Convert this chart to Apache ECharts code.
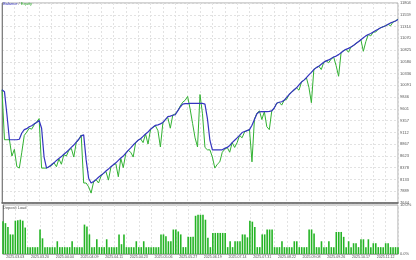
<!DOCTYPE html>
<html><head><meta charset="utf-8">
<script src="https://cdn.jsdelivr.net/npm/echarts@6/dist/echarts.min.js"></script>
<style>html,body{margin:0;padding:0;background:#fff}#c{width:416px;height:260px}</style>
</head><body><div id="c"></div>
<script>
var dates = ['2025.03.03','2025.03.20','2025.04.04','2025.04.09','2025.04.11','2025.04.23','2025.05.06','2025.05.27','2025.06.19','2025.07.14','2025.07.31','2025.08.22','2025.09.08','2025.09.26','2025.10.17','2025.11.12'];
var yLabels = ['7644','7889','8133','8378','8623','8867','9112','9357','9601','9846','10091','10336','10580','10825','11070','11314','11559','11804'];
var balance = [10000,9960,9480,8960,8960,8960,8960,8970,9100,9170,9190,9230,9250,9290,9320,9360,9200,8600,8370,8400,
8440,8480,8530,8570,8610,8660,8700,8750,8800,8850,8910,8970,9040,9060,8540,8160,8060,8090,8130,8180,
8220,8260,8310,8350,8400,8440,8480,8530,8580,8620,8680,8740,8790,8850,8900,8950,8980,9030,9080,9120,
9180,9220,9260,9270,9290,9320,9380,9440,9450,9470,9480,9560,9640,9700,9710,9710,9715,9715,9715,9715,
9715,9715,9700,9400,8950,8750,8750,8750,8750,8750,8780,8800,8840,8900,8950,9000,9050,9110,9130,9150,
9170,9260,9380,9500,9540,9545,9545,9545,9550,9560,9620,9720,9740,9750,9780,9840,9900,9950,10000,10040,
10100,10160,10200,10250,10310,10360,10420,10460,10490,10530,10570,10600,10620,10650,10680,10700,10730,10770,10810,10840,
10860,10890,10920,10960,11000,11040,11080,11120,11150,11170,11200,11230,11260,11290,11310,11330,11360,11390,11410,11430,11460];
var equity = [10000,8960,8960,8960,8620,8760,8400,8370,8700,9050,9120,9200,9180,9270,9330,9400,8370,8370,8370,8400,
8420,8480,8400,8560,8450,8650,8620,8740,8780,8600,8900,8960,9060,8060,8060,7980,7850,8080,8130,8060,
8200,8260,8300,8120,8390,8440,8460,8190,8570,8380,8670,8740,8700,8600,8900,8950,8980,8900,9080,8870,
9170,9220,9250,9150,8810,9310,9380,9420,9200,9470,9500,9560,9660,9740,9780,9860,9600,9300,9000,8810,
9900,9500,8800,8750,8750,8600,8370,8450,8500,8700,8760,8800,8700,8900,8800,8900,9050,9000,9120,9150,
9170,8500,9390,9510,9560,9380,9545,9230,9170,9560,9620,9720,9740,9680,9780,9800,9900,9950,9990,10040,
9990,10160,10200,10250,10050,9730,10420,10460,10490,10420,10570,10600,10560,10640,10680,10500,10280,10770,10810,10840,
10780,10890,10920,10960,11000,11040,10800,11000,11150,11120,11200,11200,11260,11290,11310,11330,11360,11330,11410,11430,11470];
var depositLoad = [6.7,6.3,5.5,4.0,4.0,6.8,6.9,7.0,6.8,5.4,1.4,1.4,1.4,1.4,1.4,5.0,3.2,1.4,1.4,1.4,
1.4,1.4,2.6,1.4,1.4,1.4,1.4,1.4,2.6,1.4,1.4,1.4,1.4,6.0,5.6,4.0,1.4,1.4,3.0,1.4,
1.4,1.4,3.0,1.4,1.4,1.4,1.4,4.0,2.0,4.0,1.4,1.4,1.4,1.4,2.6,1.4,1.4,2.6,1.4,1.4,
1.4,1.4,1.4,1.4,4.0,4.0,3.6,2.6,2.6,5.0,5.0,4.6,4.0,1.4,1.4,3.5,3.5,3.5,7.8,8.0,
8.0,8.0,7.0,3.3,1.4,4.3,4.3,4.3,4.3,4.3,4.3,1.4,2.6,1.4,2.6,2.6,2.6,4.0,4.0,3.4,
6.8,6.6,5.5,1.4,1.4,4.0,4.0,5.0,5.0,5.0,1.4,1.4,1.4,2.6,1.4,1.4,1.4,1.4,2.6,2.6,
1.4,1.4,1.4,1.4,5.0,5.0,4.2,1.4,1.4,2.6,1.4,1.4,2.6,1.4,1.4,4.5,4.5,4.5,3.5,1.4,
2.6,1.4,2.2,2.2,1.4,3.0,3.0,1.4,3.0,1.4,2.2,2.2,1.4,1.4,1.4,2.2,2.2,1.4,1.4,1.4,1.4];

var yMin = 7644, yMax = 11804, yStep = (yMax - yMin) / 17;
function pairs(a){ return a.map(function(v,i){ return [i,v]; }); }
var FONT = 'Liberation Sans';
var gridLine = {show:true, lineStyle:{color:'#e2e2e2', type:[2,2], width:1}};
var chart = echarts.init(document.getElementById('c'), null, {renderer:'canvas'});
chart.setOption({
  animation:false,
  backgroundColor:'#ffffff',
  textStyle:{fontFamily:FONT},
  title:[
    {text:'{b|Balance} / {e|Equity}', left:3, top:2, padding:0,
     textStyle:{fontSize:4, fontWeight:'normal', color:'#666', fontFamily:FONT,
       rich:{b:{color:'#3535c0', fontSize:4, fontFamily:FONT}, e:{color:'#2aa82a', fontSize:4, fontFamily:FONT}}}},
    {text:'Deposit Load', left:3, top:206, padding:0,
     textStyle:{fontSize:4, fontWeight:'normal', color:'#555', fontFamily:FONT}}
  ],
  grid:[
    {left:2, right:18, top:3, height:200, show:true, borderColor:'#a8a8a8', borderWidth:1},
    {left:2, right:18, top:205, height:49, show:true, borderColor:'#a8a8a8', borderWidth:1}
  ],
  xAxis:[
    {type:'value', gridIndex:0, min:0, max:160, interval:5,
     axisLine:{show:true, onZero:false, lineStyle:{color:'#606060', width:1.5}},
     axisTick:{show:false}, axisLabel:{show:false}, splitLine:gridLine},
    {type:'value', gridIndex:1, min:0, max:160, interval:5,
     axisLine:{show:true, onZero:false, lineStyle:{color:'#a8a8a8', width:1}},
     axisTick:{show:false}, splitLine:gridLine,
     axisLabel:{show:true, fontSize:3.6, color:'#555', margin:1, fontFamily:FONT, showMinLabel:true, showMaxLabel:true,
       formatter:function(v){ return (v % 10 === 5) ? (dates[(v - 5) / 10] || '') : ''; }}}
  ],
  yAxis:[
    {type:'value', gridIndex:0, position:'right', min:yMin, max:yMax, interval:yStep,
     axisLine:{show:true, lineStyle:{color:'#808080', width:1}}, axisTick:{show:false},
     splitLine:gridLine,
     axisLabel:{show:true, fontSize:4, color:'#555', margin:2, fontFamily:FONT,
       formatter:function(v){ var k = Math.round((v - yMin) / yStep); return yLabels[k] || ''; }}},
    {type:'value', gridIndex:1, position:'right', min:0, max:10, interval:10,
     axisLine:{show:true, lineStyle:{color:'#808080', width:1}}, axisTick:{show:false},
     splitLine:{show:false},
     axisLabel:{show:true, fontSize:4, color:'#555', margin:2, fontFamily:FONT,
       formatter:function(v){ return v.toFixed(1) + '%'; }}}
  ],
  series:[
    {name:'Equity', type:'line', xAxisIndex:0, yAxisIndex:0, data:pairs(equity), showSymbol:false,
     lineStyle:{color:'#33b233', width:1}, itemStyle:{color:'#33b233'}, z:2},
    {name:'Balance', type:'line', xAxisIndex:0, yAxisIndex:0, data:pairs(balance), showSymbol:false,
     lineStyle:{color:'#3434bf', width:1.2}, itemStyle:{color:'#3434bf'}, z:3},
    {name:'Deposit Load', type:'bar', xAxisIndex:1, yAxisIndex:1, data:pairs(depositLoad), barWidth:1.6,
     itemStyle:{color:'#25b425'}}
  ]
});
</script></body></html>
